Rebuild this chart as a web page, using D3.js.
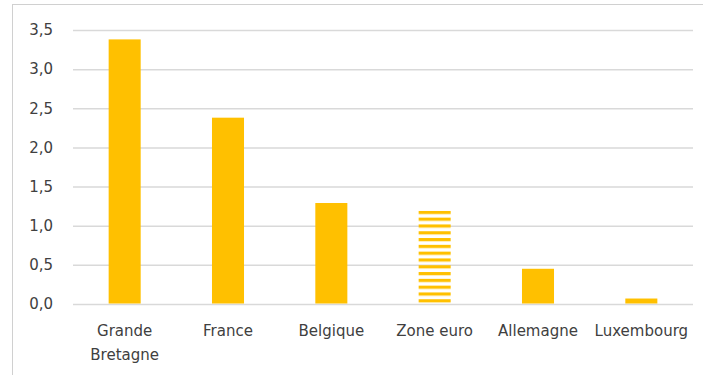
<!DOCTYPE html>
<html>
<head>
<meta charset="utf-8">
<script src="https://cdn.jsdelivr.net/npm/d3@7"></script>
<style>
  html, body { margin: 0; padding: 0; background: #fff; }
  svg { display: block; }
</style>
</head>
<body>
<svg id="chart" width="703" height="375"></svg>
<script>
// Pays / zones comparés
const categories = ["Grande\nBretagne", "France", "Belgique", "Zone euro", "Allemagne", "Luxembourg"];
const values = [3.38, 2.38, 1.29, 1.19, 0.45, 0.07];
// La zone euro est dessinée en hachures horizontales
const hatched = [false, false, false, true, false, false];
const yTicks = [0, 0.5, 1, 1.5, 2, 2.5, 3, 3.5];

const W = 703, H = 375;
const margin = { left: 73, right: 10, top: 30, bottom: 71 };
const gold = "#FFC000";
const textColor = "#404040";
const gridColor = "#d9d9d9";
const font = "'DejaVu Sans', sans-serif";

const svg = d3.select("#chart");

// Cadre du graphique
svg.append("rect")
  .attr("x", 12.5).attr("y", 4.5)
  .attr("width", W + 10).attr("height", H + 10)
  .attr("fill", "#fff")
  .attr("stroke", "#d0d0d0")
  .attr("stroke-width", 1);

const x = d3.scaleBand()
  .domain(categories)
  .range([margin.left, W - margin.right])
  .paddingInner(0.69)
  .paddingOuter(0.345);

const y = d3.scaleLinear()
  .domain([0, 3.5])
  .range([H - margin.bottom, margin.top]);

// Motif hachuré, calé sur le haut de la barre
const hatchTop = y(d3.max(values.filter((v, i) => hatched[i])));
const defs = svg.append("defs");
const pat = defs.append("pattern")
  .attr("id", "stripes")
  .attr("patternUnits", "userSpaceOnUse")
  .attr("width", 40)
  .attr("height", 6.8)
  .attr("y", hatchTop);
pat.append("rect")
  .attr("x", 0).attr("y", 0)
  .attr("width", 40).attr("height", 3.2)
  .attr("fill", gold);

// Quadrillage horizontal + libellés de l'axe Y
const fmt = v => d3.format(".1f")(v).replace(".", ",");
const yAxis = d3.axisLeft(y)
  .tickValues(yTicks)
  .tickFormat(fmt)
  .tickSize(-(W - margin.right - margin.left))
  .tickPadding(20);

const gy = svg.append("g")
  .attr("transform", `translate(${margin.left},0)`)
  .call(yAxis);
gy.select(".domain").remove();
gy.selectAll(".tick line")
  .attr("stroke", gridColor)
  .attr("stroke-width", 1.5);
gy.selectAll(".tick text")
  .attr("fill", textColor)
  .style("font-family", font)
  .style("font-size", "15px");

// Barres
const data = categories.map((c, i) => ({ c, v: values[i], h: hatched[i] }));
svg.append("g").selectAll("rect")
  .data(data)
  .join("rect")
  .attr("x", d => x(d.c))
  .attr("width", x.bandwidth())
  .attr("y", d => y(d.v))
  .attr("height", d => y(0) - y(d.v) - 0.5)
  .attr("fill", d => d.h ? "url(#stripes)" : gold);

// Libellés de l'axe X (sur deux lignes si nécessaire)
const xl = svg.append("g");
data.forEach(d => {
  const cx = x(d.c) + x.bandwidth() / 2;
  const t = xl.append("text")
    .attr("x", cx)
    .attr("y", 336)
    .attr("text-anchor", "middle")
    .attr("fill", textColor)
    .style("font-family", font)
    .style("font-size", "15px");
  d.c.split("\n").forEach((line, k) => {
    t.append("tspan")
      .attr("x", cx)
      .attr("dy", k === 0 ? 0 : 24)
      .text(line);
  });
});
</script>
</body>
</html>
